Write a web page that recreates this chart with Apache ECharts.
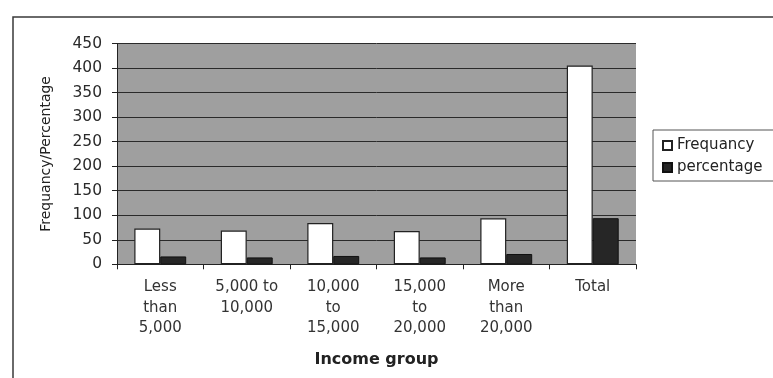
<!DOCTYPE html>
<html>
<head>
<meta charset="utf-8">
<script src="https://cdn.jsdelivr.net/npm/echarts@6/dist/echarts.min.js"></script>
<style>
  html, body { margin: 0; padding: 0; background: #ffffff; }
  #chart { width: 773px; height: 378px; }
</style>
</head>
<body>
<div id="chart"></div>
<script>
// Income groups on the category axis
const categories = ['Less\nthan\n5,000', '5,000 to\n10,000', '10,000\nto\n15,000', '15,000\nto\n20,000', 'More\nthan\n20,000', 'Total'];
// Respondent counts per income group
const frequency = [73, 69, 84, 68, 94, 405];
// Share of respondents per income group
const percentage = [16, 14, 17, 14, 21, 94];
// Value axis ticks
const yTicks = [0, 50, 100, 150, 200, 250, 300, 350, 400, 450];

const font = 'DejaVu Sans, Verdana, sans-serif';
const chart = echarts.init(document.getElementById('chart'), null, { renderer: 'canvas' });

chart.setOption({
  backgroundColor: '#ffffff',
  animation: false,
  textStyle: { fontFamily: font },
  graphic: [
    {
      type: 'rect',
      shape: { x: 13, y: 17, width: 790, height: 400 },
      style: { fill: 'none', stroke: '#3a3a3a', lineWidth: 1.5 },
      silent: true
    }
  ],
  legend: {
    orient: 'vertical',
    left: 653, top: 130,
    padding: [8, 12, 6, 9],
    itemGap: 7,
    itemWidth: 9, itemHeight: 9,
    borderColor: '#555', borderWidth: 1,
    textStyle: { fontFamily: font, fontSize: 15, color: '#222', padding: [0, 0, 0, 0] },
    data: [
      { name: 'Frequancy', icon: 'rect' },
      { name: 'percentage', icon: 'rect' }
    ]
  },
  grid: {
    left: 117, right: 137, top: 43.5, bottom: 113.7,
    show: true,
    backgroundColor: '#9f9f9f',
    borderWidth: 0
  },
  xAxis: {
    type: 'category',
    data: categories,
    name: 'Income group',
    nameLocation: 'middle',
    nameGap: 88,
    nameTextStyle: { fontFamily: font, fontSize: 16, fontWeight: 'bold', color: '#222' },
    axisLine: { lineStyle: { color: '#222', width: 1 } },
    axisTick: { show: true, length: 5, lineStyle: { color: '#222' } },
    axisLabel: {
      fontFamily: font, fontSize: 15, color: '#333',
      lineHeight: 20.5, margin: 13, interval: 0
    }
  },
  yAxis: {
    type: 'value',
    min: yTicks[0],
    max: yTicks[yTicks.length - 1],
    interval: yTicks[1] - yTicks[0],
    name: 'Frequancy/Percentage',
    nameLocation: 'middle',
    nameGap: 64,
    nameRotate: 90,
    nameTextStyle: { fontFamily: font, fontSize: 14, color: '#222' },
    axisLine: { show: true, lineStyle: { color: '#222', width: 1 } },
    axisTick: { show: true, length: 5, lineStyle: { color: '#222' } },
    axisLabel: { fontFamily: font, fontSize: 15.5, color: '#2a2a2a', margin: 15 },
    splitLine: { show: true, lineStyle: { color: '#2a2a2a', width: 1 } }
  },
  series: [
    {
      name: 'Frequancy',
      type: 'bar',
      data: frequency,
      barGap: '0%',
      barCategoryGap: '40%',
      itemStyle: { color: '#ffffff', borderColor: '#222', borderWidth: 1.2 }
    },
    {
      name: 'percentage',
      type: 'bar',
      data: percentage,
      itemStyle: { color: '#262626', borderColor: '#111', borderWidth: 1 }
    }
  ]
});
</script>
</body>
</html>
